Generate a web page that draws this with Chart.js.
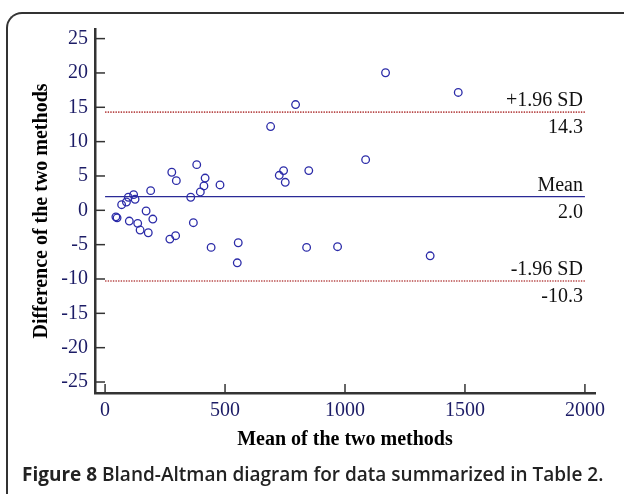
<!DOCTYPE html>
<html>
<head>
<meta charset="utf-8">
<script src="https://cdn.jsdelivr.net/npm/chart.js@4.4.1/dist/chart.umd.min.js"></script>
<style>
  html, body { margin: 0; padding: 0; background: #fff; }
  #wrap { position: relative; width: 624px; height: 494px; overflow: hidden; }
  #frame {
    position: absolute; left: 6px; top: 12px; width: 700px; height: 600px;
    border-left: 2px solid #333; border-top: 2px solid #333; border-top-left-radius: 16px;
  }
  #chart { position: absolute; left: 0; top: 0; }
  #caption {
    position: absolute; left: 22px; top: 461px; white-space: nowrap;
    font-family: "Open Sans", sans-serif; font-size: 19px; font-weight: 600; color: #222;
  }
  #caption b { font-weight: 700; }
</style>
</head>
<body>
<div id="wrap">
  <div id="frame"></div>
  <canvas id="chart" width="624" height="494"></canvas>
  <div id="caption"><b>Figure 8</b> Bland-Altman diagram for data summarized in Table 2.</div>
</div>
<script>
// mean of the two methods (x) and their difference (y)
const meanVals = [45, 50, 69, 89, 97, 119, 125, 101, 136, 146, 171, 180, 190, 199, 270, 278, 294, 297, 357, 368,
  382, 397, 412, 417, 442, 479, 551, 555, 690, 726, 744, 751, 794, 840, 849, 969, 1086, 1169, 1355, 1472];
const diffVals = [-0.95, -1.1, 0.82, 1.21, 1.9, 2.28, 1.6, -1.56, -1.9, -2.87, -0.1, -3.27, 2.86, -1.27, -4.19, 5.54, -3.7, 4.32, 1.9, -1.8,
  6.65, 2.67, 3.55, 4.7, -5.4, 3.69, -7.64, -4.72, 12.2, 5.1, 5.78, 4.08, 15.4, -5.4, 5.78, -5.3, 7.38, 20.03, -6.62, 17.16];

const xTicks = [0, 500, 1000, 1500, 2000];
const yTicks = [-25, -20, -15, -10, -5, 0, 5, 10, 15, 20, 25];

// mean and limits of agreement
const limitNames = ["+1.96 SD", "Mean", "-1.96 SD"];
const limitValues = [14.3, 2.0, -10.3];
const limitRange = [0, 2000];

const points = meanVals.map((m, i) => ({ x: m, y: diffVals[i] }));

const limitSets = limitValues.map((v, i) => ({
  type: "line",
  data: limitRange.map((x) => ({ x: x, y: v })),
  borderColor: i === 1 ? "#2a2a96" : "#b84a4a",
  borderWidth: i === 1 ? 1.3 : 1.6,
  borderDash: i === 1 ? [] : [1.4, 1.2],
  pointRadius: 0,
  showLine: true,
}));

const serif = '"Liberation Serif", "Times New Roman", serif';

// ticks point into the plot, and the limit lines carry their labels
const innerTicks = {
  id: "innerTicks",
  afterDraw(chart) {
    const { ctx, chartArea, scales } = chart;
    const x = scales.x;
    const y = scales.y;
    ctx.save();
    ctx.strokeStyle = "#333";
    ctx.lineWidth = 1.5;
    x.ticks.forEach((t) => {
      const px = x.getPixelForValue(t.value);
      ctx.beginPath();
      ctx.moveTo(px, chartArea.bottom);
      ctx.lineTo(px, chartArea.bottom - 9);
      ctx.stroke();
    });
    y.ticks.forEach((t) => {
      const py = y.getPixelForValue(t.value);
      ctx.beginPath();
      ctx.moveTo(chartArea.left, py);
      ctx.lineTo(chartArea.left + 10, py);
      ctx.stroke();
    });

    ctx.font = "20px " + serif;
    ctx.fillStyle = "#111";
    ctx.textAlign = "right";
    ctx.textBaseline = "alphabetic";
    const px = x.getPixelForValue(limitRange[1]) - 2;
    limitValues.forEach((v, i) => {
      const py = y.getPixelForValue(v);
      ctx.fillText(limitNames[i], px, py - 6);
      ctx.fillText(v.toFixed(1), px, py + 21);
    });
    ctx.restore();
  },
};

new Chart(document.getElementById("chart"), {
  type: "scatter",
  data: {
    datasets: [
      {
        data: points,
        pointStyle: "circle",
        pointRadius: 3.8,
        pointBorderWidth: 1.3,
        borderColor: "#2b2ba8",
        backgroundColor: "rgba(0,0,0,0)",
      },
      ...limitSets,
    ],
  },
  options: {
    responsive: false,
    animation: false,
    devicePixelRatio: 1,
    layout: { padding: { left: 0, top: 29, right: 29, bottom: 0 } },
    plugins: { legend: { display: false }, tooltip: { enabled: false } },
    scales: {
      x: {
        type: "linear",
        min: -42,
        max: 2042,
        afterBuildTicks: (s) => { s.ticks = xTicks.map((v) => ({ value: v })); },
        afterFit: (s) => { s.height = 101; },
        grid: { display: false, drawTicks: false },
        border: { display: true, color: "#333", width: 2.5 },
        ticks: {
          color: "#1c1c66", padding: 6, maxRotation: 0,
          font: { family: serif, size: 20 },
          callback: (v) => String(v),
        },
        title: {
          display: true,
          text: "Mean of the two methods",
          color: "#000",
          font: { family: serif, size: 20, weight: "bold" },
          padding: { top: 0, bottom: 42 },
        },
      },
      y: {
        type: "linear",
        min: -26.6,
        max: 26.4,
        afterBuildTicks: (s) => { s.ticks = yTicks.map((v) => ({ value: v })); },
        afterFit: (s) => { s.width = 95; },
        grid: { display: false, drawTicks: false },
        border: { display: true, color: "#333", width: 2.5 },
        ticks: {
          color: "#1c1c66", padding: 7,
          font: { family: serif, size: 20 },
          callback: (v) => String(v),
        },
        title: {
          display: true,
          text: "Difference of the two methods",
          color: "#000",
          font: { family: serif, size: 20, weight: "bold" },
          padding: { top: 30, bottom: 0 },
        },
      },
    },
  },
  plugins: [innerTicks],
});
</script>
</body>
</html>
